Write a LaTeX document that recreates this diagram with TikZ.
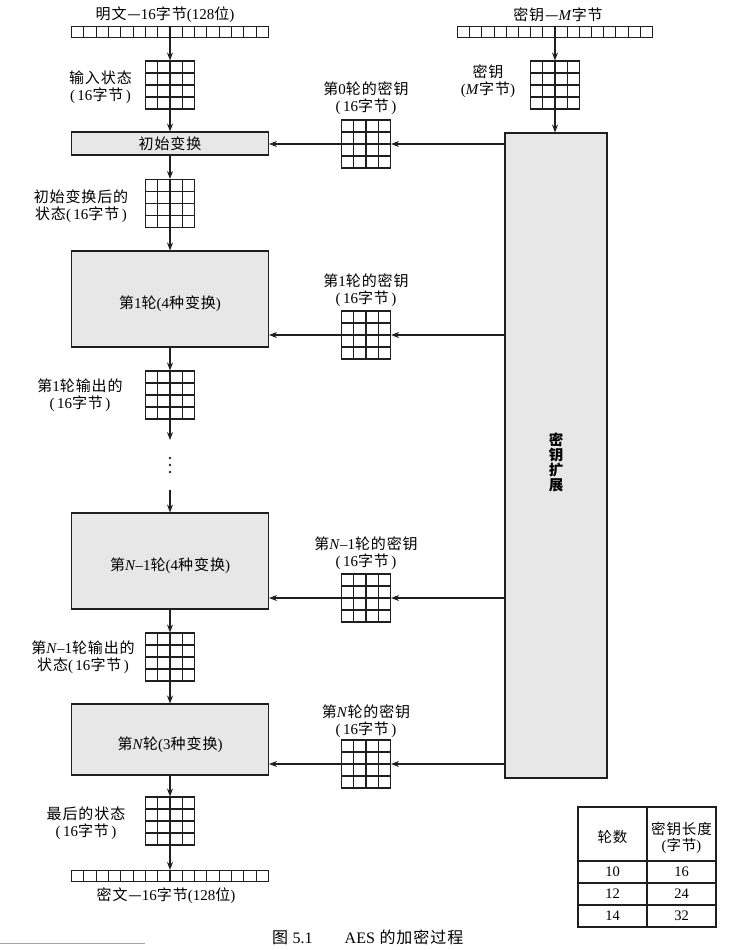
\documentclass[tikz,border=0pt]{standalone}
\usepackage{fontspec}
\setmainfont{Liberation Serif}
\newfontfamily\cjk[LetterSpace=6]{Noto Sans CJK SC}
\usetikzlibrary{arrows.meta,calc}
% digits, brackets and Latin letters in the serif face
\newcommand\dg[1]{{\rmfamily #1}}
\newcommand\zj{\dg{(\,16}字节\dg{\,)}}
% text set a little below the centre of a tall box
\newcommand\sinktext[1]{\raisebox{-5pt}[\height][\depth]{#1}}
\begin{document}
\begin{tikzpicture}[x=1pt,y=-1pt,
  ln/.style={line width=1.05pt, draw=black!88},
  arr/.style={ln, -{Stealth[length=8pt,width=6pt]}},
  stategrid/.style={ln, minimum width=49, minimum height=48, inner sep=0pt,
    path picture={
      \foreach \k in {1,2,3}{
        \draw[ln] ($(path picture bounding box.south west)!\k/4!(path picture bounding box.south east)$)
          -- ($(path picture bounding box.north west)!\k/4!(path picture bounding box.north east)$);
        \draw[ln] ($(path picture bounding box.south west)!\k/4!(path picture bounding box.north west)$)
          -- ($(path picture bounding box.south east)!\k/4!(path picture bounding box.north east)$);
      }}},
  bytebar/.style={ln, minimum width=#1, minimum height=11, inner sep=0pt,
    path picture={
      \foreach \k in {1,...,15}{
        \draw[ln] ($(path picture bounding box.south west)!\k/16!(path picture bounding box.south east)$)
          -- ($(path picture bounding box.north west)!\k/16!(path picture bounding box.north east)$);
      }}},
  stage/.style={ln, fill=gray!19, inner sep=0pt, minimum width=197,
    font=\cjk\fontsize{15}{18}\selectfont},
  lbl/.style={font=\cjk\fontsize{15}{17}\selectfont, align=center, inner sep=0pt},
  cell/.style={font=\cjk\fontsize{14.5}{15.5}\selectfont, align=center, inner sep=0pt},
]
\useasboundingbox (0,0) rectangle (744,950);

% ---------- data path (left column) ----------
\node[bytebar=197] (pt) at (170,32) {};
\node[lbl] (ptl) at (165,15) {明文—\dg{16}字节\dg{(128}位\dg{)}};

\node[stategrid] (s0) at (170,85) {};
\node[lbl, anchor=east] (s0l) at (132,87) {输入状态\\\zj};

\node[stage, minimum height=23] (init) at (170,143.5) {初始变换};

\node[stategrid] (s1) at (170,203.5) {};
\node[lbl] (s1l) at (81,206) {初始变换后的\\状态\zj};

\node[stage, minimum height=96] (r1) at (170,299) {\sinktext{第\dg{1}轮\dg{(4}种变换\dg{)}}};

\node[stategrid] (o1) at (170,395) {};
\node[lbl] (o1l) at (80,395) {第\dg{1}轮输出的\\\zj};

\coordinate (d1) at (170,440);
\coordinate (d2) at (170,490);
\foreach \yy in {458,465,472}{\fill[black!85] (170,\yy) circle (1.3);}

\node[stage, minimum height=96] (rn1) at (170,561) {\sinktext{第\dg{\textit{N}–1}轮\dg{(4}种变换\dg{)}}};

\node[stategrid] (on1) at (170,657) {};
\node[lbl] (on1l) at (83,657) {第\dg{\textit{N}–1}轮输出的\\状态\zj};

\node[stage, minimum height=71] (rn) at (170,739.5) {\sinktext{第\dg{\textit{N}}轮\dg{(3}种变换\dg{)}}};

\node[stategrid] (sf) at (170,821) {};
\node[lbl] (sfl) at (86,823) {最后的状态\\\zj};

\node[bytebar=197] (ct) at (170,876) {};
\node[lbl] (ctl) at (166,896) {密文—\dg{16}字节\dg{(128}位\dg{)}};

% ---------- key path (right side) ----------
\node[bytebar=195] (kb) at (555,32) {};
\node[lbl] (kbl) at (558,15) {密钥—\dg{\textit{M}}字节};

\node[stategrid] (kg) at (555,85) {};
\node[lbl] (kgl) at (488,81) {密钥\\\dg{(\textit{M}}字节\dg{)}};

\node[stage, minimum width=102, minimum height=645] (kexp) at (556,455.5) {};
\node[lbl, font=\cjk\bfseries\fontsize{14.5}{15}\selectfont] (kexpl) at (556,462) {密\\钥\\扩\\展};

\node[stategrid] (k0) at (366,144) {};
\node[lbl] (k0l) at (366,98) {第\dg{0}轮的密钥\\\zj};

\node[stategrid] (k1) at (366,335) {};
\node[lbl] (k1l) at (366,290) {第\dg{1}轮的密钥\\\zj};

\node[stategrid] (kn1) at (366,598) {};
\node[lbl] (kn1l) at (366,553) {第\dg{\textit{N}–1}轮的密钥\\\zj};

\node[stategrid] (kn) at (366,764) {};
\node[lbl] (knl) at (366,721) {第\dg{\textit{N}}轮的密钥\\\zj};

% ---------- connectors ----------
\draw[arr] (pt.south) -- (s0.north);
\draw[arr] (s0.south) -- (init.north);
\draw[arr] (init.south) -- (s1.north);
\draw[arr] (s1.south) -- (r1.north);
\draw[arr] (r1.south) -- (o1.north);
\draw[arr] (o1.south) -- (d1);
\draw[arr] (d2) -- (rn1.north);
\draw[arr] (rn1.south) -- (on1.north);
\draw[arr] (on1.south) -- (rn.north);
\draw[arr] (rn.south) -- (sf.north);
\draw[arr] (sf.south) -- (ct.north);

\draw[arr] (kb.south) -- (kg.north);
\draw[arr] (kg.south) -- (kg.south |- kexp.north);

\foreach \k/\r in {k0/init, k1/r1, kn1/rn1, kn/rn}{
  \draw[arr] (kexp.west |- \k) -- (\k.east);
  \draw[arr] (\k.west) -- (\r.east |- \k);
}

% ---------- table of rounds ----------
\draw[ln, line width=1.3pt] (578,807) rectangle (716,927);
\draw[ln, line width=1.3pt] (647,807) -- (647,927);
\draw[ln, line width=1.7pt] (578,861) -- (716,861);
\draw[ln] (578,883) -- (716,883);
\draw[ln] (578,905) -- (716,905);
\node[cell] (th1) at (612.5,837) {轮数};
\node[cell] (th2) at (681.5,838) {密钥长度\\\dg{(}字节\dg{)}};
\node[cell] (a1) at (612.5,872) {\dg{10}};
\node[cell] (b1) at (681.5,872) {\dg{16}};
\node[cell] (a2) at (612.5,894) {\dg{12}};
\node[cell] (b2) at (681.5,894) {\dg{24}};
\node[cell] (a3) at (612.5,916) {\dg{14}};
\node[cell] (b3) at (681.5,916) {\dg{32}};

% ---------- caption ----------
\draw[gray!70, line width=0.8pt] (0,943) -- (145,943);
\node[lbl, anchor=west, font=\cjk\fontsize{16}{18}\selectfont] (cap) at (272,937)
  {图 \dg{5.1}\qquad\dg{AES} 的加密过程};
\end{tikzpicture}
\end{document}
